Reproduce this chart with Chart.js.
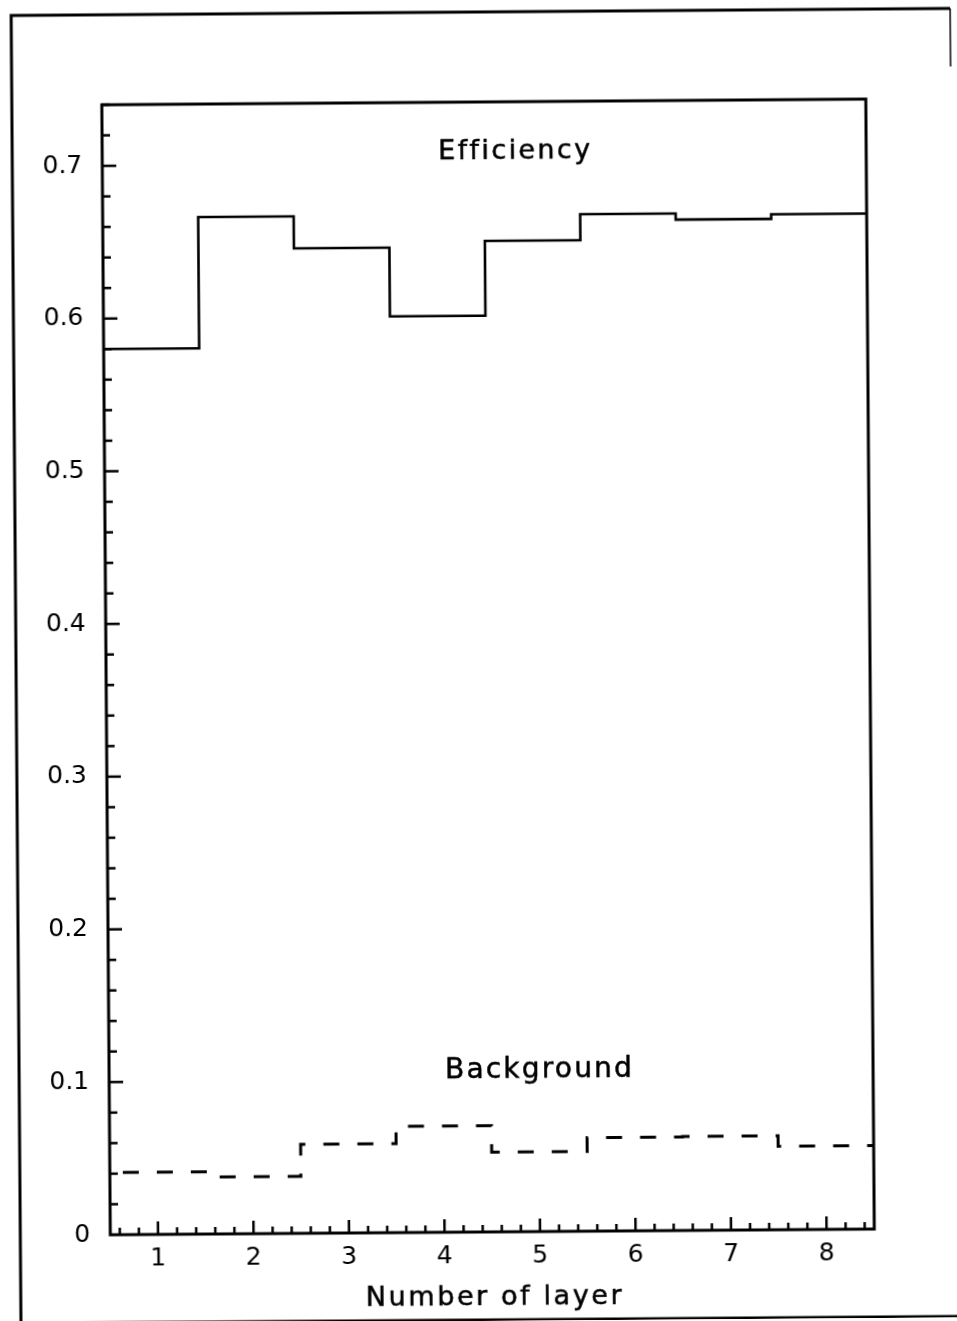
<!DOCTYPE html>
<html>
<head>
<meta charset="utf-8">
<script src="https://cdn.jsdelivr.net/npm/chart.js@4.4.1/dist/chart.umd.min.js"></script>
<style>
  html, body { margin: 0; padding: 0; background: #ffffff; overflow: hidden; }
  #wrap { position: absolute; left: 0; top: 0; width: 957px; height: 1321px;
          transform: rotate(-0.43deg); transform-origin: 478.5px 660.5px; }
  canvas { display: block; }
</style>
</head>
<body>
<div id="wrap"><canvas id="c" width="957" height="1321"></canvas></div>
<script>
// ---- data ----
const binEdges   = [0.5, 1.5, 2.5, 3.5, 4.5, 5.5, 6.5, 7.5, 8.5];
const efficiency = [0.580, 0.666, 0.645, 0.600, 0.649, 0.666, 0.662, 0.665];
const background = [0.0407, 0.0373, 0.0583, 0.0696, 0.0523, 0.0612, 0.0615, 0.0546];
const xMajorTicks = [1, 2, 3, 4, 5, 6, 7, 8];
const xTickLabels = ['1', '2', '3', '4', '5', '6', '7', '8'];
const yMajorTicks = [0, 0.1, 0.2, 0.3, 0.4, 0.5, 0.6, 0.7];
const yTickLabels = ['0', '0.1', '0.2', '0.3', '0.4', '0.5', '0.6', '0.7'];
const xRange = [0.5, 8.5];
const yRange = [0, 0.74];
const xMinorStep = 0.2;
const yMinorStep = 0.02;
const xAxisTitle = 'Number of layer';
const effLabel = 'Efficiency';
const bkgLabel = 'Background';

function stepPoints(vals) {
  return binEdges.map((e, i) => ({ x: e, y: vals[Math.min(i, vals.length - 1)] }));
}
function minorList(lo, hi, step) {
  const out = [];
  const start = Math.ceil(lo / step - 1e-9);
  for (let k = start; k * step <= hi + 1e-9; k++) out.push(Math.round(k * step * 1000) / 1000);
  return out;
}
function isMajor(v, majors) { return majors.some(m => Math.abs(m - v) < 1e-6); }

const FONT = "'DejaVu Sans', 'Liberation Sans', sans-serif";

const framePlugin = {
  id: 'frame',
  afterDraw(chart) {
    const ctx = chart.ctx, a = chart.chartArea;
    const xs = chart.scales.x, ys = chart.scales.y;
    ctx.save();
    ctx.strokeStyle = '#000';
    ctx.lineCap = 'butt';
    // plot frame
    ctx.lineWidth = 3;
    ctx.strokeRect(a.left, a.top, a.right - a.left, a.bottom - a.top);
    // y ticks (inward)
    ctx.lineWidth = 2.5;
    minorList(yRange[0], yRange[1], yMinorStep).forEach(v => {
      if (v <= yRange[0] + 1e-9) return;
      const p = ys.getPixelForValue(v);
      const len = isMajor(v, yMajorTicks) ? 14 : 8;
      ctx.beginPath(); ctx.moveTo(a.left, p); ctx.lineTo(a.left + len, p); ctx.stroke();
    });
    // x ticks (inward)
    minorList(xRange[0], xRange[1], xMinorStep).forEach(v => {
      if (v <= xRange[0] + 1e-9 || v >= xRange[1] - 1e-9) return;
      const p = xs.getPixelForValue(v);
      const len = isMajor(v, xMajorTicks) ? 13 : 7;
      ctx.beginPath(); ctx.moveTo(p, a.bottom); ctx.lineTo(p, a.bottom - len); ctx.stroke();
    });
    // outer page frame
    ctx.lineWidth = 3;
    ctx.beginPath();
    ctx.moveTo(16, 1330); ctx.lineTo(16, 12); ctx.lineTo(955, 12);
    ctx.stroke();
    ctx.beginPath(); ctx.moveTo(0, 1320); ctx.lineTo(957, 1320); ctx.stroke();
    ctx.lineWidth = 1.5;
    ctx.beginPath(); ctx.moveTo(955, 12); ctx.lineTo(955, 70); ctx.stroke();
    // texts
    ctx.fillStyle = '#000';
    ctx.textAlign = 'left';
    ctx.textBaseline = 'alphabetic';
    function txt(s, x, y, size, sp) {
      ctx.font = size + 'px ' + FONT;
      ctx.letterSpacing = sp + 'px';
      ctx.fillText(s, x, y);
      ctx.lineWidth = 0.5;
      ctx.strokeText(s, x, y);
    }
    txt(effLabel, 442, 159, 27, 2.4);
    txt(bkgLabel, 442, 1078, 28, 2.2);
    txt(xAxisTitle, 361, 1305, 27, 2.6);
    ctx.restore();
  }
};

new Chart(document.getElementById('c'), {
  type: 'line',
  data: {
    datasets: [
      {
        label: effLabel,
        data: stepPoints(efficiency),
        stepped: 'before',
        borderColor: '#000',
        borderWidth: 2.6,
        pointRadius: 0,
        fill: false
      },
      {
        label: bkgLabel,
        data: stepPoints(background),
        stepped: 'before',
        borderColor: '#000',
        borderWidth: 3,
        borderDash: [16, 18],
        borderDashOffset: 21,
        pointRadius: 0,
        fill: false
      }
    ]
  },
  options: {
    responsive: false,
    animation: false,
    devicePixelRatio: 1,
    layout: { padding: { left: 0, right: 87, top: 102, bottom: 0 } },
    plugins: { legend: { display: false }, tooltip: { enabled: false }, title: { display: false } },
    scales: {
      x: {
        type: 'linear',
        min: xRange[0], max: xRange[1],
        grid: { display: false, drawTicks: false },
        border: { display: false },
        afterFit(s) { s.height = 89; },
        afterBuildTicks(s) { s.ticks = xMajorTicks.map(v => ({ value: v })); },
        ticks: {
          padding: 9,
          color: '#000',
          font: { family: FONT, size: 25 },
          maxRotation: 0,
          autoSkip: false,
          callback(v) { const i = xMajorTicks.findIndex(m => Math.abs(m - v) < 1e-6); return i >= 0 ? xTickLabels[i] : ''; }
        }
      },
      y: {
        type: 'linear',
        min: yRange[0], max: yRange[1],
        grid: { display: false, drawTicks: false },
        border: { display: false },
        afterFit(s) { s.width = 106; },
        afterBuildTicks(s) { s.ticks = yMajorTicks.map(v => ({ value: v })); },
        ticks: {
          padding: 20,
          color: '#000',
          font: { family: FONT, size: 25 },
          autoSkip: false,
          callback(v) { const i = yMajorTicks.findIndex(m => Math.abs(m - v) < 1e-6); return i >= 0 ? yTickLabels[i] : ''; }
        }
      }
    }
  },
  plugins: [framePlugin]
});
</script>
</body>
</html>
